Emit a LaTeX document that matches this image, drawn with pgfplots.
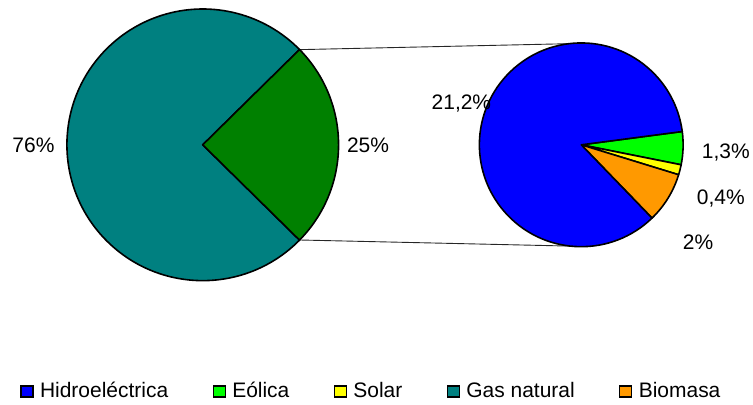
\documentclass[border=0pt]{standalone}
\usepackage{fontspec}
\setmainfont{Liberation Sans}
\usepackage{pgfplots}
\pgfplotsset{compat=1.18}

\definecolor{hidro}{HTML}{0000FF}
\definecolor{eolica}{HTML}{00FF00}
\definecolor{solar}{HTML}{FFFF00}
\definecolor{gasnat}{HTML}{008080}
\definecolor{biomasa}{HTML}{FF9900}
\definecolor{renov}{HTML}{008000}

% sector: cx, cy, r, start angle, end angle, colour
\newcommand\sector[6]{%
  \filldraw[fill=#6, draw=black, line width=1.6pt, line join=round]
    (axis cs:#1,#2) -- ++(#4:#3pt) arc[start angle=#4, end angle=#5, radius=#3pt] -- cycle;}

\begin{document}
\begin{tikzpicture}
\begin{axis}[
    x=1pt, y=1pt,
    xmin=0, xmax=753, ymin=0, ymax=405,
    hide axis, clip=false,
    legend columns=5,
    legend cell align=left,
    legend image code/.code={\draw[#1, draw=black, line width=1.1pt] (0pt,0.5pt) rectangle (12pt,11.5pt);},
    legend style={
        at={(0.0272,0.0136)}, anchor=south west,
        draw=none, fill=none, inner sep=0pt, outer sep=0pt,
        font=\fontsize{21}{25}\selectfont,
        nodes={inner sep=0pt},
        cells={anchor=base west},
        /tikz/every odd column/.append style={column sep=6.5pt},
        /tikz/every even column/.append style={column sep=44.5pt},
    },
]
\pgfplotsextra{
  \path (axis cs:0,0) rectangle (axis cs:753,405);
  % connector lines
  \draw[black!85, line width=0.9pt] (axis cs:300,355.3) -- (axis cs:581,361.5);
  \draw[black!85, line width=0.9pt] (axis cs:300,164.7) -- (axis cs:575,158.5);
  % main pie: gas natural 76, renovables 25
  \pgfmathsetmacro\tot{76+25}
  \pgfmathsetmacro\aa{25/\tot*180}
  \pgfmathsetmacro\ab{\aa-25/\tot*360}
  \pgfmathsetmacro\ac{\aa-360}
  \sector{203}{260}{136}{\ab}{\ac}{gasnat}
  \sector{203}{260}{136}{\aa}{\ab}{renov}
  % secondary pie: renovables split
  \pgfmathsetmacro\tot{1.3+0.4+2+21.2}
  \xdef\acc{7.5}
  \foreach \v/\c in {1.3/eolica, 0.4/solar, 2/biomasa, 21.2/hidro} {
    \pgfmathsetmacro\b{\acc-\v/\tot*360}
    \sector{582}{260}{102}{\acc}{\b}{\c}
    \xdef\acc{\b}
  }
}
\begin{scope}[font=\fontsize{21}{25}\selectfont]
\node[anchor=base] at (axis cs:33.5,252.3) {76\%};
\node[anchor=base] at (axis cs:368.5,252.5) {25\%};
\node[anchor=base] at (axis cs:462,295) {21,2\%};
\node[anchor=base] at (axis cs:726.7,246.7) {1,3\%};
\node[anchor=base] at (axis cs:721.7,200) {0,4\%};
\node[anchor=base] at (axis cs:699,155) {2\%};
\end{scope}
\addlegendimage{fill=hidro}\addlegendentry{Hidroeléctrica}
\addlegendimage{fill=eolica}\addlegendentry{Eólica}
\addlegendimage{fill=solar}\addlegendentry{Solar}
\addlegendimage{fill=gasnat}\addlegendentry{Gas natural}
\addlegendimage{fill=biomasa}\addlegendentry{Biomasa}
\end{axis}
\end{tikzpicture}
\end{document}
